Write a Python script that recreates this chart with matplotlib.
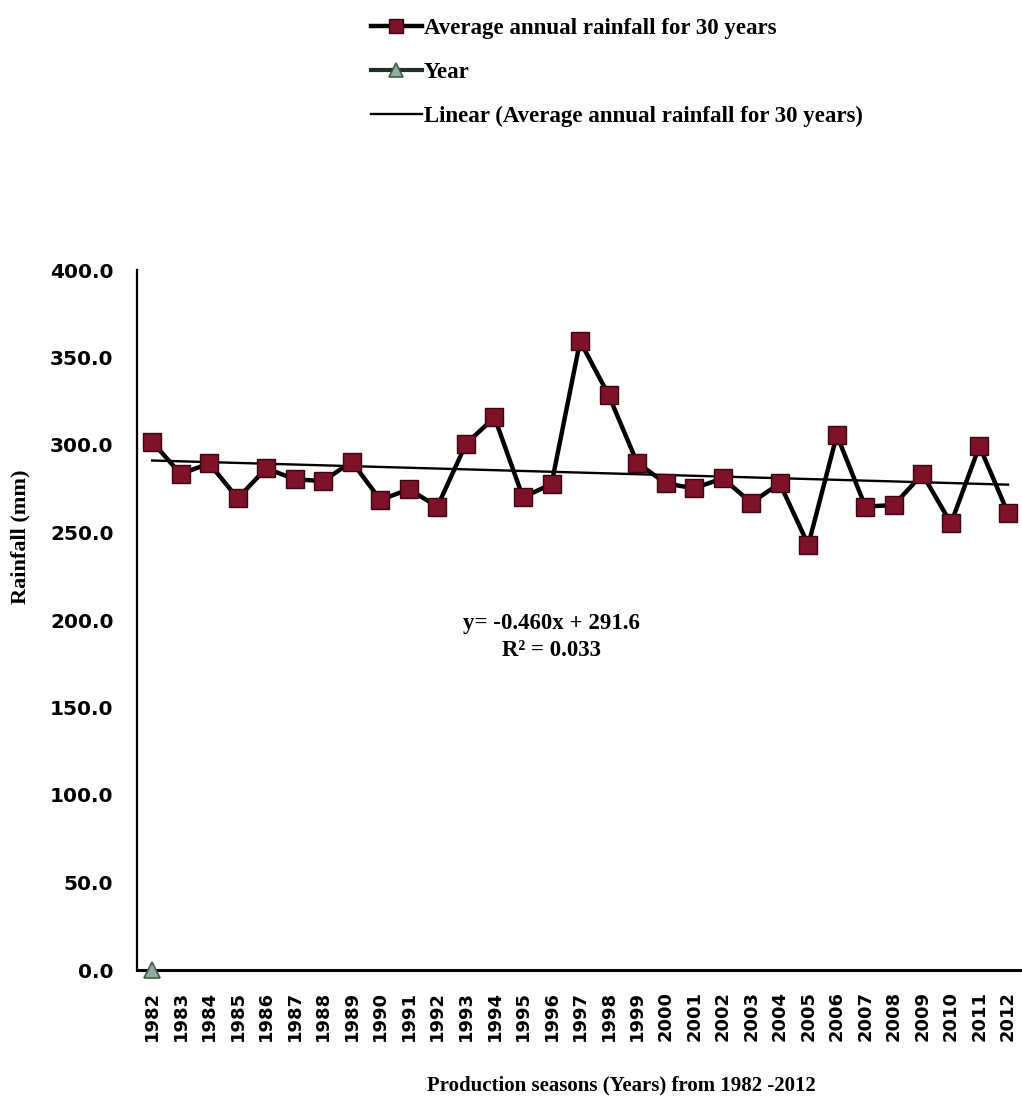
import matplotlib
matplotlib.use("Agg")
import matplotlib.pyplot as plt
import numpy as np

years = [str(y) for y in range(1982, 2013)]
rainfall = [301.9, 283.4, 289.5, 269.5, 286.7, 280.4, 279.4, 290.5, 268.6, 274.7,
            264.8, 300.6, 315.8, 270.1, 277.7, 359.3, 328.6, 289.9, 278.1, 275.2,
            281.0, 267.0, 278.1, 242.9, 305.7, 264.8, 265.7, 283.4, 255.2, 299.4, 261.0]
year_series = [0.0]  # only the first point is visible on this scale
trend_slope = -0.460
trend_intercept = 291.6
r_squared = 0.033
yticks = [0, 50, 100, 150, 200, 250, 300, 350, 400]

plt.rcParams['font.family'] = ['Liberation Serif', 'DejaVu Serif']
plt.rcParams['font.weight'] = 'bold'

W, H = 1022, 1115
fig = plt.figure(figsize=(W / 100, H / 100), dpi=100)
ax = fig.add_axes([137 / W, 1 - 970 / H, (1020 - 137) / W, 700 / H])

x = np.arange(len(years))
rain_color = '#7d1228'
l1, = ax.plot(x, rainfall, color='black', lw=3.2, marker='s', markersize=12.5,
              markerfacecolor=rain_color, markeredgecolor='#3a0510', markeredgewidth=1.0,
              label='Average annual rainfall for 30 years', zorder=3)
l2, = ax.plot(x[:len(year_series)], year_series, color='#1f2f2a', lw=3, marker='^',
              markersize=11, markerfacecolor='#8fb09c', markeredgecolor='#3f5a4c',
              markeredgewidth=1.2, label='Year', zorder=4, clip_on=False)
xt = x + 1
trend = trend_slope * xt + trend_intercept
l3, = ax.plot(x, trend, color='black', lw=1.7,
              label='Linear (Average annual rainfall for 30 years)', zorder=2)

ax.set_xlim(-0.53, 30.42)
ax.set_ylim(0, 400)
ax.set_yticks(yticks)
ax.set_yticklabels([f'{v:.1f}' for v in yticks], fontsize=14.5, fontweight='bold',
                   family=['DejaVu Sans'])
ax.set_xticks(x)
ax.set_xticklabels(years, rotation=90, fontsize=13, fontweight='bold',
                   family=['DejaVu Sans'])
ax.tick_params(axis='both', length=0)
ax.tick_params(axis='y', pad=17)
ax.tick_params(axis='x', pad=15)
for s in ['top', 'right']:
    ax.spines[s].set_visible(False)
ax.spines['left'].set_linewidth(1.6)
ax.spines['bottom'].set_linewidth(2.2)

ax.text(14.0, 198, f'y= {trend_slope:.3f}x + {trend_intercept:.1f}', ha='center', va='center',
        fontsize=16.5, fontweight='bold')
ax.text(14.0, 182.5, f'R² = {r_squared:.3f}', ha='center', va='center',
        fontsize=16.5, fontweight='bold')

fig.text(20 / W, 1 - 537 / H, 'Rainfall (mm)', rotation=90, ha='center', va='center',
         fontsize=16)
fig.text(621 / W, 1 - 1085 / H, 'Production seasons (Years) from 1982 -2012', ha='center',
         va='center', fontsize=15, fontweight='bold')

leg = fig.legend(handles=[l1, l2, l3], loc='upper left', bbox_to_anchor=(362 / W, 1 - 9 / H),
                 frameon=False, fontsize=16.5, handlelength=2.2, handletextpad=0.1,
                 labelspacing=1.0, borderaxespad=0)
for h in leg.legend_handles:
    h.set_markersize(10)

fig.savefig('out.png', dpi=100)
